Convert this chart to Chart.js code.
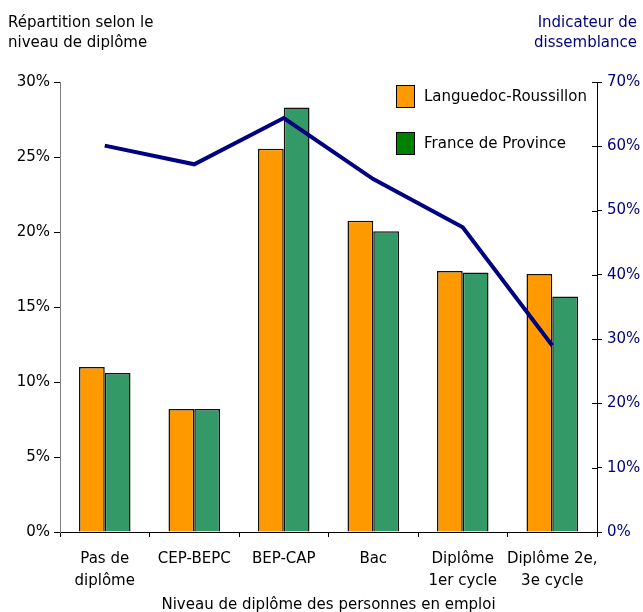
<!DOCTYPE html>
<html>
<head>
<meta charset="utf-8">
<script src="https://cdn.jsdelivr.net/npm/chart.js@4"></script>
<style>
html,body{margin:0;padding:0;background:#fff;}
#wrap{width:643px;height:612px;}
</style>
</head>
<body>
<div id="wrap"><canvas id="c" width="643" height="612"></canvas></div>
<script>
const categories = [["Pas de","diplôme"],["CEP-BEPC"],["BEP-CAP"],["Bac"],["Diplôme","1er cycle"],["Diplôme 2e,","3e cycle"]];
const languedoc = [11.0, 8.2, 25.55, 20.75, 17.4, 17.2];
const franceProvince = [10.6, 8.2, 28.3, 20.05, 17.3, 15.7];
const dissemblance = [60.1, 57.2, 64.4, 54.9, 47.4, 29.0];
const leftTicks = [0,5,10,15,20,25,30];
const rightTicks = [0,10,20,30,40,50,60,70];
const seriesNames = ["Languedoc-Roussillon","France de Province","Indicateur de dissemblance"];

const FONT = "'DejaVu Sans', Verdana, sans-serif";
const NAVY = '#000080';
const legendColors = ['#FF9900','#008000'];

const extras = {
  id:'extras',
  afterDraw(chart){
    const ctx = chart.ctx;
    const ca = chart.chartArea;
    ctx.save();
    ctx.font = '15px ' + FONT;
    ctx.textBaseline = 'alphabetic';
    ctx.fillStyle = '#000';
    ctx.textAlign = 'left';
    ctx.fillText('Répartition selon le', 8, 26.5);
    ctx.fillText('niveau de diplôme', 8, 47);
    ctx.fillStyle = NAVY;
    ctx.textAlign = 'right';
    ctx.fillText('Indicateur de', 637, 26.5);
    ctx.fillText('dissemblance', 637, 47);
    ctx.fillStyle = '#000';
    ctx.textAlign = 'center';
    ctx.fillText('Niveau de diplôme des personnes en emploi', (ca.left+ca.right)/2, 609);
    const y1 = chart.scales.y1;
    ctx.strokeStyle = '#000';
    ctx.lineWidth = 1;
    rightTicks.forEach(v=>{
      const py = Math.round(y1.getPixelForValue(v))+0.5;
      ctx.beginPath();
      ctx.moveTo(ca.right-5, py);
      ctx.lineTo(ca.right, py);
      ctx.stroke();
    });
    [0,1].forEach((i,k)=>{
      const bx = 396, by = 85 + k*47;
      ctx.fillStyle = legendColors[i];
      ctx.fillRect(bx, by, 18, 22);
      ctx.strokeStyle = '#000';
      ctx.lineWidth = 1;
      ctx.strokeRect(bx+0.5, by+0.5, 18, 22);
      ctx.fillStyle = '#000';
      ctx.textAlign = 'left';
      ctx.textBaseline = 'middle';
      ctx.fillText(chart.data.datasets[i].label, 424, by + 12);
    });
    ctx.restore();
  }
};

new Chart(document.getElementById('c'), {
  type:'bar',
  data:{
    labels: categories,
    datasets:[
      {label:seriesNames[0], data:languedoc, backgroundColor:'#FF9900', borderColor:'#111', borderWidth:1.5, yAxisID:'y', order:1, barPercentage:1, categoryPercentage:0.576},
      {label:seriesNames[1], data:franceProvince, backgroundColor:'#339966', borderColor:'#111', borderWidth:1.5, yAxisID:'y', order:1, barPercentage:1, categoryPercentage:0.576},
      {type:'line', label:seriesNames[2], data:dissemblance, borderColor:NAVY, borderWidth:4, pointRadius:0, tension:0, fill:false, yAxisID:'y1', order:0}
    ]
  },
  options:{
    responsive:false,
    animation:false,
    devicePixelRatio:1,
    layout:{padding:{top:82,left:0,right:0,bottom:0}},
    plugins:{legend:{display:false}, tooltip:{enabled:false}, title:{display:false}},
    scales:{
      x:{
        grid:{display:true, drawOnChartArea:false, drawTicks:true, tickLength:5, color:'#000', offset:true},
        border:{display:true, color:'#000', width:1},
        ticks:{color:'#000', font:{family:FONT, size:15, lineHeight:1.45}, padding:11, maxRotation:0, autoSkip:false},
        afterFit(s){ s.height = 80; }
      },
      y:{
        position:'left', min:0, max:30,
        afterBuildTicks(s){ s.ticks = leftTicks.map(v=>({value:v})); },
        grid:{display:true, drawOnChartArea:false, drawTicks:true, tickLength:6, color:'#000'},
        border:{display:true, color:'#808080', width:1},
        ticks:{color:'#000', font:{family:FONT, size:15}, padding:4, callback:v=>v+'%'},
        afterFit(s){ s.width = 60; }
      },
      y1:{
        position:'right', min:0, max:70,
        afterBuildTicks(s){ s.ticks = rightTicks.map(v=>({value:v})); },
        grid:{display:true, drawOnChartArea:false, drawTicks:true, tickLength:5, color:'#000'},
        border:{display:true, color:'#000', width:1},
        ticks:{color:NAVY, font:{family:FONT, size:15}, padding:5, callback:v=>v+'%'},
        afterFit(s){ s.width = 46; }
      }
    }
  },
  plugins:[extras]
});
</script>
</body>
</html>
